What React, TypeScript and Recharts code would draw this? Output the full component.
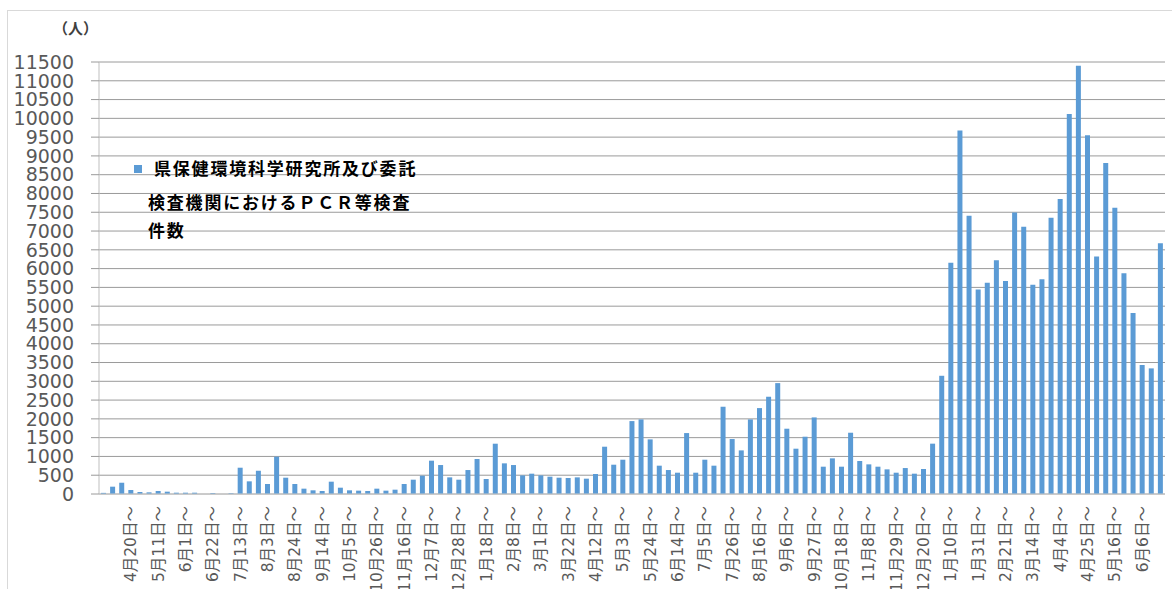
import React from 'react';
import { BarChart, Bar, XAxis, YAxis, CartesianGrid, Legend } from 'recharts';

// week start (Monday) for each bar, 2020/3/30 - 2022/6/20
const WEEKS = [
  '3月30日～', '4月6日～', '4月13日～', '4月20日～', '4月27日～', '5月4日～', '5月11日～', '5月18日～', '5月25日～', '6月1日～',
  '6月8日～', '6月15日～', '6月22日～', '6月29日～', '7月6日～', '7月13日～', '7月20日～', '7月27日～', '8月3日～', '8月10日～',
  '8月17日～', '8月24日～', '8月31日～', '9月7日～', '9月14日～', '9月21日～', '9月28日～', '10月5日～', '10月12日～', '10月19日～',
  '10月26日～', '11月2日～', '11月9日～', '11月16日～', '11月23日～', '11月30日～', '12月7日～', '12月14日～', '12月21日～', '12月28日～',
  '1月4日～', '1月11日～', '1月18日～', '1月25日～', '2月1日～', '2月8日～', '2月15日～', '2月22日～', '3月1日～', '3月8日～',
  '3月15日～', '3月22日～', '3月29日～', '4月5日～', '4月12日～', '4月19日～', '4月26日～', '5月3日～', '5月10日～', '5月17日～',
  '5月24日～', '5月31日～', '6月7日～', '6月14日～', '6月21日～', '6月28日～', '7月5日～', '7月12日～', '7月19日～', '7月26日～',
  '8月2日～', '8月9日～', '8月16日～', '8月23日～', '8月30日～', '9月6日～', '9月13日～', '9月20日～', '9月27日～', '10月4日～',
  '10月11日～', '10月18日～', '10月25日～', '11月1日～', '11月8日～', '11月15日～', '11月22日～', '11月29日～', '12月6日～', '12月13日～',
  '12月20日～', '12月27日～', '1月3日～', '1月10日～', '1月17日～', '1月24日～', '1月31日～', '2月7日～', '2月14日～', '2月21日～',
  '2月28日～', '3月7日～', '3月14日～', '3月21日～', '3月28日～', '4月4日～', '4月11日～', '4月18日～', '4月25日～', '5月2日～',
  '5月9日～', '5月16日～', '5月23日～', '5月30日～', '6月6日～', '6月13日～', '6月20日～',
];

// PCR等検査件数 (人)
const TESTS = [
  30, 195, 300, 106, 53, 44, 80, 62, 35, 35,
  35, 0, 25, 0, 20, 700, 337, 620, 266, 993,
  434, 266, 142, 98, 80, 328, 168, 98, 89, 80,
  142, 89, 115, 266, 381, 488, 887, 771, 443, 381,
  638, 931, 399, 1339, 816, 771, 496, 541, 496, 461,
  434, 426, 443, 408, 532, 1259, 780, 913, 1941, 1986,
  1454, 754, 638, 567, 1622, 567, 913, 754, 2323, 1463,
  1161, 1986, 2287, 2589, 2952, 1738, 1206, 1525, 2039, 727,
  949, 727, 1631, 878, 789, 727, 656, 567, 691, 541,
  665, 1340, 3147, 6154, 9674, 7404, 5445, 5622, 6225, 5667,
  7493, 7112, 5569, 5720, 7351, 7856, 10117, 11402, 9550, 6323,
  8814, 7617, 5879, 4816, 3433, 3344, 6677,
];

// labels that are actually printed under the axis (every 3rd week)
const TICK_LABELS = [
  '4月20日～', '5月11日～', '6月1日～', '6月22日～', '7月13日～', '8月3日～', '8月24日～', '9月14日～',
  '10月5日～', '10月26日～', '11月16日～', '12月7日～', '12月28日～', '1月18日～', '2月8日～', '3月1日～',
  '3月22日～', '4月12日～', '5月3日～', '5月24日～', '6月14日～', '7月5日～', '7月26日～', '8月16日～',
  '9月6日～', '9月27日～', '10月18日～', '11月8日～', '11月29日～', '12月20日～', '1月10日～', '1月31日～',
  '2月21日～', '3月14日～', '4月4日～', '4月25日～', '5月16日～', '6月6日～',
];

const Y_TICKS = [
  0, 500, 1000, 1500, 2000, 2500, 3000, 3500, 4000, 4500, 5000, 5500,
  6000, 6500, 7000, 7500, 8000, 8500, 9000, 9500, 10000, 10500, 11000, 11500,
];

const LEGEND_LINES = ['県保健環境科学研究所及び委託', '検査機関におけるＰＣＲ等検査', '件数'];

const data = WEEKS.map((week, i) => ({ week, tests: TESTS[i] }));

const BAR_COLOR = '#5b9bd5';
const TEXT_GRAY = '#595959';
const FONT = "'DejaVu Sans', 'Noto Sans CJK JP', sans-serif";
const JP_FONT = "'Noto Sans CJK JP', sans-serif";

const WeekTick = (props: any) => {
  const { x, y, index } = props;
  const label = WEEKS[index];
  if (!TICK_LABELS.includes(label) || index === 0) return <g />;
  return (
    <text
      x={x}
      y={y}
      transform={`rotate(-90, ${x}, ${y})`}
      textAnchor="end"
      dy="0.35em"
      fontSize={15.5}
      fill={TEXT_GRAY}
      fontFamily={FONT}
    >
      {label}
    </text>
  );
};

const LegendBox = () => (
  <div style={{ position: 'relative', width: 320, height: 100, fontFamily: JP_FONT }}>
    <div style={{ position: 'absolute', left: 4, top: 10, width: 8, height: 8, background: BAR_COLOR }} />
    {LEGEND_LINES.map((line, i) => (
      <div
        key={i}
        style={{
          position: 'absolute',
          left: i === 0 ? 24 : 18,
          top: [3, 37, 65][i],
          lineHeight: '20px',
          fontSize: 17,
          fontWeight: 700,
          letterSpacing: 1.8,
          color: '#000',
          whiteSpace: 'nowrap',
        }}
      >
        {line}
      </div>
    ))}
  </div>
);

export default function App() {
  return (
    <div
      style={{
        position: 'absolute',
        left: 0,
        top: 0,
        width: 1172,
        height: 589,
        overflow: 'hidden',
        background: '#fff',
      }}
    >
      {/* chart frame, only its top and left edges are in view */}
      <div
        style={{
          position: 'absolute',
          left: 7,
          top: 10,
          width: 1300,
          height: 700,
          border: '1px solid #d9d9d9',
        }}
      />
      <div
        style={{
          position: 'absolute',
          left: 60,
          top: 18,
          fontFamily: JP_FONT,
          fontSize: 15,
          fontWeight: 700,
          color: '#404040',
          lineHeight: '20px',
          marginLeft: -7,
        }}
      >
        （人）
      </div>
      <div style={{ position: 'absolute', left: 0, top: 0 }}>
        <BarChart
          width={1172}
          height={589}
          data={data}
          margin={{ top: 62, right: 7, bottom: 0, left: 0 }}
          barSize={5}
        >
          <CartesianGrid vertical={false} stroke="#9a9a9a" />
          <XAxis
            dataKey="week"
            interval={0}
            height={95}
            tickLine={false}
            tickSize={0}
            tickMargin={12}
            axisLine={{ stroke: '#c8c8c8' }}
            tick={<WeekTick />}
          />
          <YAxis
            width={99}
            domain={[0, 11500]}
            ticks={Y_TICKS}
            interval={0}
            tickSize={8}
            tickMargin={17}
            tickLine={{ stroke: '#9a9a9a' }}
            axisLine={{ stroke: '#bfbfbf' }}
            tick={{ fontSize: 19, fill: TEXT_GRAY, fontFamily: FONT }}
          />
          <Legend
            layout="horizontal"
            align="center"
            verticalAlign="middle"
            wrapperStyle={{ left: 130, top: 155, width: 320, height: 100 }}
            content={() => <LegendBox />}
          />
          <Bar dataKey="tests" name="県保健環境科学研究所及び委託検査機関におけるＰＣＲ等検査件数" fill={BAR_COLOR} isAnimationActive={false} />
        </BarChart>
      </div>
    </div>
  );
}
